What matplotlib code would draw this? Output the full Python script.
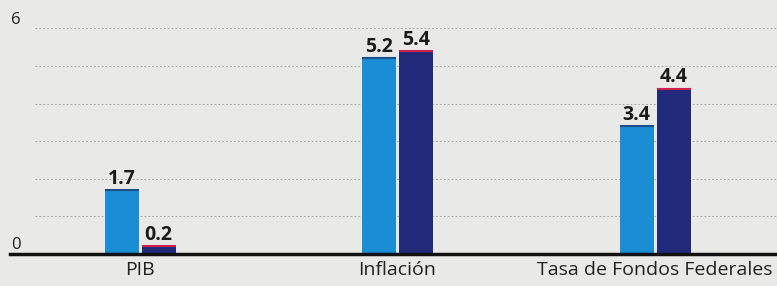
import matplotlib.pyplot as plt
import numpy as np

# datos
categorias = ["PIB", "Inflación", "Tasa de Fondos Federales"]
serie_a = [1.7, 5.2, 3.4]
serie_b = [0.2, 5.4, 4.4]
y_ticks = [0, 6]
grid_vals = [1, 2, 3, 4, 5, 6]

W, H = 777, 286
fig = plt.figure(figsize=(W / 100, H / 100), dpi=100)
fig.patch.set_facecolor("#e9e9e8")

# ejes ocupando todo el ancho, base a 32 px del borde inferior
ax = fig.add_axes([0, 32 / H, 1, (H - 32) / H])
ax.set_facecolor("none")
px_unit = 37.6
ax.set_ylim(0, (H - 32) / px_unit)
grp = 257.5
ax.set_xlim(-140 / grp, (W - 140) / grp)
for s in ax.spines.values():
    s.set_visible(False)
ax.set_xticks([])
ax.set_yticks([])

x = np.arange(len(categorias))
bw = 34 / grp
off = 18.5 / grp

for g in grid_vals:
    ax.axhline(g, xmin=35 / W, xmax=1, color="#ababab", lw=0.7,
               ls=(0, (2, 2)), zorder=1)

c_a = "#1b8dd4"
c_b = "#222a7c"
ax.bar(x - off, serie_a, bw, color=c_a, zorder=2)
ax.bar(x + off, serie_b, bw, color=c_b, zorder=2)
# filete superior
ax.hlines(serie_a, x - off - bw / 2, x - off + bw / 2, color="#1b4f8a", lw=1.5, zorder=3)
ax.hlines(serie_b, x + off - bw / 2, x + off + bw / 2, color="#d02050", lw=1.5, zorder=3)

for xi, v in zip(x - off, serie_a):
    ax.text(xi, v + 0.17, f"{v:.1f}", ha="center", va="baseline",
            fontsize=14, fontweight="bold", color="#1c1c1c", family="Open Sans")
for xi, v in zip(x + off, serie_b):
    ax.text(xi, v + 0.17, f"{v:.1f}", ha="center", va="baseline",
            fontsize=14, fontweight="bold", color="#1c1c1c", family="Open Sans")

# linea base
ax.axhline(0, xmin=10 / W, xmax=1, color="#111111", lw=2.5, zorder=4,
           clip_on=False)

# etiquetas del eje y
for t in y_ticks:
    ax.text(11 / grp - 140 / grp, t + 0.12, str(t), ha="left", va="baseline",
            fontsize=12, color="#222222", family="Open Sans")

# categorias
for xi, c in zip(x, categorias):
    ax.text(xi, -0.42, c, ha="center", va="center", fontsize=14,
            color="#222222", family="Open Sans", clip_on=False)

fig.savefig("out.png", dpi=100, facecolor=fig.get_facecolor())
